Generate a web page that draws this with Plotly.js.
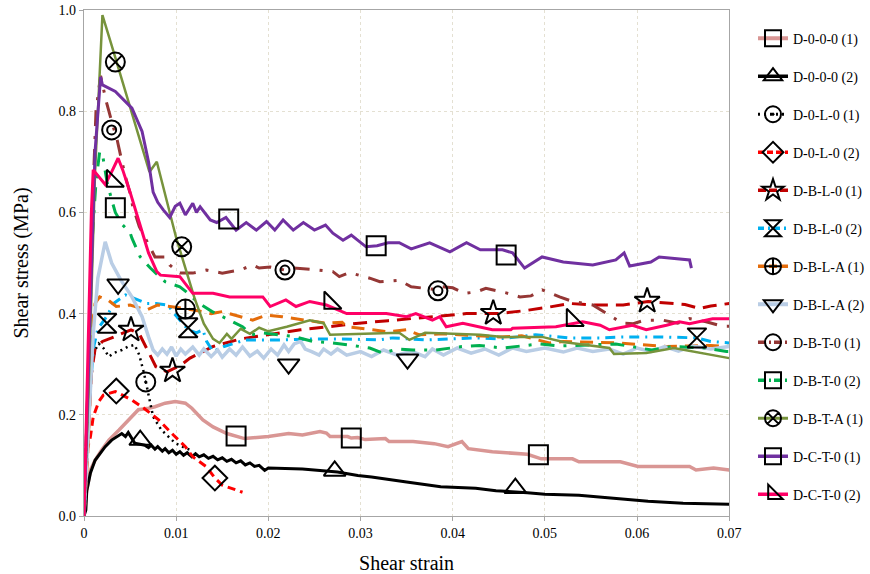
<!DOCTYPE html>
<html>
<head>
<meta charset="utf-8">
<script src="https://cdn.plot.ly/plotly-3.0.1.min.js"></script>
<style>html,body{margin:0;padding:0;background:#fff;}#chart{width:870px;height:574px;}</style>
</head>
<body>
<div id="chart"></div>
<script>
// ---------- DATA ----------
const seriesNames = ['D-0-0-0 (1)','D-0-0-0 (2)','D-0-L-0 (1)','D-0-L-0 (2)','D-B-L-0 (1)','D-B-L-0 (2)','D-B-L-A (1)','D-B-L-A (2)','D-B-T-0 (1)','D-B-T-0 (2)','D-B-T-A (1)','D-C-T-0 (1)','D-C-T-0 (2)'];

// D-0-0-0 (1)
const s1x = [0,0.0002,0.0007,0.0012,0.0019,0.0027,0.0038,0.0048,0.0059,0.007,0.0077,0.0088,0.0099,0.011,0.0117,0.0129,0.014,0.0155,0.0165,0.0174,0.02,0.0222,0.0237,0.0256,0.0263,0.0267,0.0286,0.029,0.0297,0.0305,0.0327,0.0331,0.0357,0.038,0.0395,0.041,0.0417,0.0443,0.0481,0.0496,0.053,0.0537,0.0582,0.0601,0.0657,0.0664,0.0683,0.07];
const s1y = [0,0.04,0.091,0.11,0.13,0.15,0.17,0.19,0.21,0.213,0.216,0.223,0.226,0.223,0.213,0.19,0.176,0.163,0.158,0.153,0.157,0.163,0.16,0.167,0.164,0.157,0.157,0.154,0.155,0.151,0.153,0.147,0.147,0.143,0.137,0.147,0.133,0.127,0.122,0.113,0.113,0.107,0.107,0.098,0.098,0.091,0.095,0.091];
// D-0-0-0 (2)
const s2x = [0,0.0002,0.0003,0.0007,0.0012,0.0018,0.0023,0.003,0.0036,0.0041,0.0045,0.0048,0.0055,0.0066,0.007,0.0073,0.0077,0.008,0.0085,0.0088,0.0092,0.0096,0.01,0.0104,0.0108,0.0112,0.0117,0.0121,0.0125,0.013,0.0135,0.014,0.0145,0.015,0.0155,0.016,0.0165,0.017,0.0175,0.018,0.0185,0.019,0.0196,0.02,0.0237,0.0275,0.0297,0.0312,0.035,0.0387,0.0425,0.0447,0.0481,0.05,0.0537,0.0575,0.0612,0.065,0.07];
const s2y = [0,0.012,0.05,0.085,0.11,0.124,0.137,0.15,0.157,0.163,0.157,0.165,0.144,0.14,0.135,0.14,0.132,0.137,0.128,0.133,0.125,0.13,0.122,0.127,0.12,0.125,0.117,0.123,0.117,0.121,0.114,0.118,0.111,0.115,0.108,0.112,0.105,0.109,0.101,0.105,0.098,0.1,0.09,0.095,0.093,0.087,0.08,0.077,0.067,0.058,0.055,0.05,0.046,0.043,0.041,0.035,0.029,0.025,0.023];
// D-0-L-0 (1)
const s3x = [0,0.0003,0.0008,0.0012,0.0016,0.0021,0.0027,0.0032,0.0041,0.0048,0.0055,0.006,0.0065,0.007,0.0075,0.0084,0.0099,0.011,0.0117];
const s3y = [0,0.15,0.295,0.328,0.341,0.332,0.315,0.322,0.328,0.335,0.338,0.318,0.283,0.236,0.196,0.17,0.144,0.134,0.13];
// D-0-L-0 (2)
const s4x = [0,0.0002,0.0007,0.001,0.0016,0.0021,0.0034,0.0038,0.0052,0.0065,0.0081,0.0097,0.011,0.0118,0.0133,0.0142,0.015,0.0172];
const s4y = [0,0.12,0.157,0.196,0.226,0.239,0.246,0.242,0.229,0.213,0.19,0.16,0.137,0.117,0.097,0.075,0.061,0.047];
// D-B-L-0 (1)
const s5x = [0,0.0004,0.0008,0.0012,0.002,0.003,0.004,0.0051,0.006,0.0068,0.0078,0.009,0.0105,0.0115,0.014,0.017,0.021,0.0235,0.027,0.0292,0.033,0.0378,0.0415,0.045,0.0479,0.0505,0.0527,0.0552,0.0585,0.0612,0.0652,0.0668,0.068,0.07];
const s5y = [0,0.15,0.28,0.33,0.345,0.352,0.36,0.368,0.36,0.33,0.295,0.285,0.298,0.312,0.335,0.35,0.362,0.368,0.375,0.38,0.386,0.394,0.4,0.4,0.406,0.413,0.42,0.417,0.417,0.424,0.418,0.41,0.415,0.42];
// D-B-L-0 (2)
const s6x = [0,0.0005,0.001,0.0015,0.0025,0.0032,0.0045,0.0058,0.0068,0.0078,0.0091,0.0098,0.0105,0.0113,0.0122,0.0129,0.0133,0.014,0.0152,0.0168,0.0175,0.0195,0.0215,0.025,0.028,0.032,0.0335,0.037,0.04,0.0425,0.045,0.049,0.0527,0.056,0.0585,0.0625,0.0665,0.068,0.07];
const s6y = [0,0.2,0.33,0.37,0.395,0.42,0.437,0.427,0.42,0.42,0.417,0.4,0.385,0.368,0.362,0.368,0.345,0.325,0.335,0.345,0.348,0.348,0.348,0.35,0.35,0.348,0.352,0.348,0.35,0.352,0.35,0.358,0.352,0.352,0.354,0.354,0.352,0.345,0.342];
// D-B-L-A (1)
const s7x = [0,0.0004,0.0008,0.001,0.0012,0.0017,0.0026,0.0035,0.005,0.0068,0.008,0.0093,0.011,0.0125,0.0138,0.015,0.0168,0.0183,0.0198,0.0215,0.024,0.0263,0.028,0.0285,0.0313,0.033,0.035,0.0364,0.039,0.0425,0.045,0.0475,0.0505,0.052,0.0545,0.058,0.061,0.0632,0.0655,0.068,0.07];
const s7y = [0,0.12,0.3,0.39,0.42,0.433,0.427,0.414,0.417,0.407,0.417,0.414,0.41,0.405,0.4,0.404,0.394,0.387,0.397,0.394,0.387,0.381,0.383,0.374,0.368,0.364,0.368,0.358,0.36,0.356,0.354,0.356,0.342,0.345,0.344,0.342,0.338,0.335,0.336,0.337,0.335];
// D-B-L-A (2)
const s8x = [0,0.0005,0.001,0.0015,0.0023,0.003,0.004,0.0052,0.0063,0.007,0.0075,0.008,0.0085,0.009,0.0095,0.01,0.0105,0.011,0.0118,0.0125,0.013,0.0138,0.0145,0.015,0.0158,0.0165,0.0172,0.018,0.0188,0.0195,0.0203,0.021,0.0217,0.0222,0.0228,0.0235,0.024,0.0247,0.0255,0.026,0.0268,0.0275,0.0285,0.03,0.0312,0.0325,0.034,0.0355,0.037,0.0378,0.039,0.0405,0.042,0.0435,0.045,0.0465,0.048,0.05,0.052,0.0535,0.0552,0.057,0.0585,0.06,0.0615,0.063,0.0645,0.066,0.068,0.07];
const s8y = [0,0.18,0.36,0.47,0.542,0.5,0.466,0.433,0.394,0.354,0.328,0.318,0.33,0.32,0.334,0.316,0.33,0.32,0.334,0.318,0.33,0.315,0.328,0.314,0.33,0.318,0.334,0.316,0.326,0.312,0.33,0.318,0.338,0.325,0.34,0.345,0.33,0.325,0.318,0.33,0.32,0.33,0.318,0.325,0.315,0.328,0.318,0.326,0.315,0.33,0.318,0.332,0.322,0.33,0.318,0.332,0.325,0.332,0.324,0.332,0.325,0.33,0.32,0.332,0.325,0.335,0.326,0.336,0.33,0.335];
// D-B-T-0 (1)
const s9x = [0,0.0005,0.0009,0.0013,0.0018,0.0024,0.003,0.0036,0.004,0.0045,0.005,0.0053,0.006,0.0069,0.0077,0.0088,0.0093,0.0104,0.0118,0.0133,0.015,0.0169,0.0183,0.019,0.0202,0.0218,0.0227,0.0249,0.027,0.0277,0.0288,0.031,0.0321,0.0342,0.0355,0.0384,0.0389,0.04,0.0413,0.0426,0.0436,0.0458,0.0473,0.0485,0.0497,0.0516,0.053,0.0552,0.0572,0.0584,0.0596,0.0608,0.0628,0.0644,0.0657,0.0675,0.0693,0.07];
const s9y = [0,0.3,0.6,0.8,0.87,0.82,0.78,0.743,0.71,0.67,0.638,0.611,0.572,0.539,0.512,0.512,0.496,0.48,0.48,0.486,0.48,0.486,0.496,0.49,0.492,0.486,0.49,0.487,0.483,0.473,0.481,0.47,0.463,0.466,0.453,0.447,0.453,0.451,0.44,0.443,0.45,0.441,0.433,0.435,0.447,0.433,0.424,0.417,0.394,0.381,0.38,0.387,0.387,0.381,0.39,0.384,0.375,0.375];
// D-B-T-0 (2)
const s10x = [0,0.0004,0.0009,0.0013,0.0017,0.002,0.0025,0.003,0.0034,0.0042,0.005,0.0052,0.0061,0.0072,0.0088,0.0104,0.0111,0.0125,0.0139,0.0158,0.0172,0.0182,0.0194,0.0212,0.0227,0.0248,0.027,0.0299,0.031,0.0324,0.034,0.0357,0.0382,0.041,0.0429,0.0454,0.048,0.0494,0.0516,0.054,0.0577,0.06,0.0616,0.0638,0.066,0.0675,0.0697,0.07];
const s10y = [0,0.25,0.55,0.66,0.72,0.715,0.66,0.625,0.6,0.575,0.56,0.549,0.512,0.49,0.463,0.453,0.443,0.42,0.404,0.387,0.374,0.358,0.362,0.358,0.355,0.345,0.342,0.335,0.332,0.322,0.33,0.328,0.328,0.335,0.337,0.332,0.338,0.34,0.336,0.338,0.34,0.333,0.328,0.335,0.334,0.332,0.325,0.325];
// D-B-T-A (1)
const s11x = [0,0.0005,0.0012,0.002,0.003,0.004,0.005,0.006,0.0071,0.0079,0.009,0.01,0.011,0.012,0.013,0.014,0.0147,0.0155,0.016,0.017,0.018,0.019,0.02,0.022,0.0245,0.026,0.0267,0.03,0.0342,0.0353,0.037,0.043,0.0454,0.0497,0.052,0.057,0.0575,0.061,0.064,0.07];
const s11y = [0,0.25,0.68,0.99,0.93,0.87,0.81,0.75,0.68,0.7,0.62,0.55,0.49,0.43,0.38,0.35,0.342,0.36,0.35,0.37,0.36,0.372,0.365,0.374,0.387,0.381,0.358,0.36,0.362,0.348,0.362,0.358,0.354,0.354,0.344,0.332,0.32,0.322,0.332,0.312];
// D-C-T-0 (1)
const s12x = [0,0.0005,0.0012,0.0018,0.002,0.0034,0.0045,0.0052,0.0063,0.007,0.0075,0.008,0.0086,0.0093,0.0099,0.0104,0.011,0.0118,0.0122,0.0126,0.0137,0.0144,0.0154,0.0165,0.0176,0.0187,0.0198,0.0207,0.0216,0.0227,0.0238,0.025,0.0262,0.027,0.0281,0.029,0.0306,0.0318,0.033,0.0342,0.0355,0.0375,0.0397,0.0415,0.043,0.0454,0.0465,0.0478,0.0497,0.052,0.0552,0.0577,0.0586,0.0592,0.0615,0.0624,0.0657,0.0659];
const s12y = [0,0.3,0.72,0.868,0.852,0.839,0.82,0.806,0.76,0.7,0.64,0.62,0.605,0.59,0.612,0.618,0.595,0.618,0.6,0.611,0.585,0.58,0.59,0.565,0.58,0.565,0.582,0.565,0.585,0.565,0.58,0.565,0.575,0.559,0.545,0.555,0.532,0.534,0.54,0.54,0.528,0.54,0.522,0.54,0.526,0.526,0.52,0.49,0.512,0.502,0.496,0.506,0.52,0.494,0.502,0.512,0.506,0.49];
// D-C-T-0 (2)
const s13x = [0,0.0004,0.0008,0.001,0.0016,0.0023,0.003,0.0037,0.0042,0.005,0.006,0.007,0.0079,0.0083,0.0104,0.0118,0.014,0.0158,0.0169,0.0194,0.0202,0.0219,0.023,0.0245,0.0263,0.0285,0.0328,0.035,0.036,0.0378,0.0386,0.0393,0.0411,0.0429,0.0443,0.0463,0.0465,0.0512,0.0541,0.056,0.057,0.0595,0.061,0.0632,0.0646,0.0657,0.0682,0.07];
const s13y = [0,0.3,0.6,0.684,0.67,0.655,0.68,0.707,0.684,0.64,0.58,0.52,0.483,0.476,0.473,0.44,0.44,0.433,0.433,0.433,0.414,0.427,0.414,0.424,0.417,0.4,0.4,0.394,0.4,0.387,0.394,0.374,0.381,0.374,0.368,0.368,0.371,0.374,0.384,0.377,0.368,0.377,0.368,0.377,0.384,0.38,0.39,0.39];

// marker positions
const m1x = [0.0165,0.029,0.0493],            m1y = [0.158,0.154,0.121];
const m2x = [0.0061,0.0272,0.0468],           m2y = [0.15,0.089,0.055];
const m3x = [0.0067],                         m3y = [0.265];
const m4x = [0.0035,0.0142],                  m4y = [0.247,0.075];
const m5x = [0.0051,0.0096,0.0444,0.0611],    m5y = [0.368,0.287,0.401,0.425];
const m6x = [0.0025,0.0113,0.0665],           m6y = [0.381,0.372,0.352];
const m7x = [0.011],                          m7y = [0.409];
const m8x = [0.0037,0.0222,0.0351],           m8y = [0.458,0.30,0.31];
const m9x = [0.003,0.0218,0.0384],            m9y = [0.763,0.486,0.445];
const m10x = [0.0034],                        m10y = [0.609];
const m11x = [0.0034,0.0106],                 m11y = [0.897,0.532];
const m12x = [0.0157,0.0317,0.0458],          m12y = [0.587,0.534,0.516];
const m13x = [0.0031,0.0267,0.053],           m13y = [0.662,0.421,0.387];

const xTickVals = [0,0.01,0.02,0.03,0.04,0.05,0.06,0.07];
const xTickText = ['0','0.01','0.02','0.03','0.04','0.05','0.06','0.07'];
const yTickVals = [0,0.2,0.4,0.6,0.8,1.0];
const yTickText = ['0.0','0.2','0.4','0.6','0.8','1.0'];

// ---------- STYLES ----------
const lineX = [s1x,s2x,s3x,s4x,s5x,s6x,s7x,s8x,s9x,s10x,s11x,s12x,s13x];
const lineY = [s1y,s2y,s3y,s4y,s5y,s6y,s7y,s8y,s9y,s10y,s11y,s12y,s13y];
const mkX = [m1x,m2x,m3x,m4x,m5x,m6x,m7x,m8x,m9x,m10x,m11x,m12x,m13x];
const mkY = [m1y,m2y,m3y,m4y,m5y,m6y,m7y,m8y,m9y,m10y,m11y,m12y,m13y];
const colors = ['#D99694','#000000','#000000','#FF0000','#C00000','#00B0F0','#E46C0A','#B9CDE5','#953735','#00B050','#77933C','#7030A0','#FF0066'];
const widths = [3.5,3,2.5,3,3,3,3,3.5,3,3,2.5,3,3];
const dashes = ['solid','solid','2px,4px','8px,5px','14px,8px','10px,6px,2px,6px','13px,8px','solid','16px,10px,3px,10px','14px,9px,3px,9px','solid','solid','solid'];
const legendDashes = ['solid','solid','2px,4px','6px,3px','8px,3px','6px,4px,2px,4px','8px,3px','solid','8px,3px,2px,3px','8px,3px,2px,3px','solid','solid','solid'];
const symbols = ['square-open','triangle-up-open','circle-open-dot','diamond-open','star-open','hourglass-open','circle-cross-open','triangle-down-open','circle-open','square-open','circle-x-open','square-open','triangle-sw-open'];

const traces = [];
for (let i = 0; i < 13; i++) {
  traces.push({x: lineX[i], y: lineY[i], type: 'scatter', mode: 'lines', showlegend: false, hoverinfo: 'skip',
    line: {color: colors[i], width: widths[i], dash: dashes[i], shape: 'linear'}});
}
for (let i = 0; i < 13; i++) {
  traces.push({x: mkX[i], y: mkY[i], type: 'scatter', mode: 'markers', showlegend: false, hoverinfo: 'skip',
    marker: {symbol: symbols[i], size: 19, color: '#000', line: {color: '#000', width: 2}}});
  if (i === 8) {
    traces.push({x: mkX[i], y: mkY[i], type: 'scatter', mode: 'markers', showlegend: false, hoverinfo: 'skip',
      marker: {symbol: 'circle-open', size: 9, color: '#000', line: {color: '#000', width: 2}}});
  }
}
for (let i = 0; i < 13; i++) {
  traces.push({x: [null], y: [null], type: 'scatter', mode: 'lines+markers', name: seriesNames[i], legendgroup: 'g' + i,
    line: {color: colors[i], width: widths[i] + 0.5, dash: legendDashes[i]},
    marker: {symbol: symbols[i], size: 16, color: '#000', line: {color: '#000', width: 2}}});
}

const font = 'Liberation Serif';
const layout = {
  width: 870, height: 574,
  margin: {l: 84, r: 0, t: 10, b: 58, pad: 0},
  paper_bgcolor: '#fff', plot_bgcolor: '#fff',
  font: {family: font, size: 14, color: '#000'},
  showlegend: true,
  legend: {x: 0.852, xanchor: 'left', y: 0.975, yanchor: 'top', traceorder: 'grouped', tracegroupgap: 16.8,
    font: {family: font, size: 14, color: '#000'}, bgcolor: 'rgba(0,0,0,0)', borderwidth: 0, itemwidth: 30},
  xaxis: {domain: [0, 0.8219], range: [0, 0.07], tickvals: xTickVals, ticktext: xTickText, showline: true, linecolor: '#A6A6A6', linewidth: 1.3,
    mirror: true, showgrid: true, gridcolor: '#E4E0D2', griddash: 'dot', gridwidth: 1, zeroline: false,
    ticks: 'outside', ticklen: 4, tickcolor: '#A6A6A6', tickfont: {family: font, size: 14, color: '#000'},
    title: {text: 'Shear strain', font: {family: font, size: 20, color: '#000'}, standoff: 16}},
  yaxis: {range: [0, 1], tickvals: yTickVals, ticktext: yTickText, showline: true, linecolor: '#A6A6A6', linewidth: 1.3,
    mirror: true, showgrid: true, gridcolor: '#E4E0D2', griddash: 'dot', gridwidth: 1, zeroline: false,
    ticks: 'outside', ticklen: 4, tickcolor: '#A6A6A6', tickfont: {family: font, size: 14, color: '#000'},
    title: {text: 'Shear stress (MPa)', font: {family: font, size: 20, color: '#000'}, standoff: 24}}
};

Plotly.newPlot('chart', traces, layout, {displayModeBar: false, staticPlot: true});
</script>
</body>
</html>
